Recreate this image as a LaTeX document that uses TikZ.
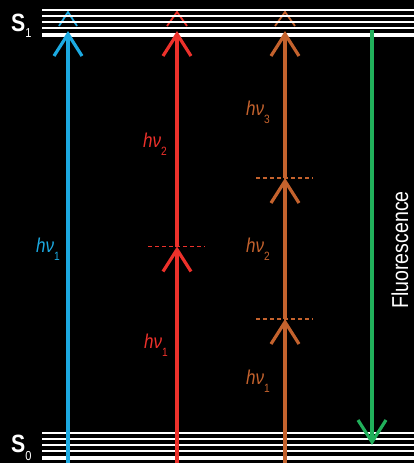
\documentclass[tikz,border=0pt]{standalone}
\usepackage{fontspec}
\setmainfont{Liberation Sans}
\newfontfamily\narrowfont[FakeStretch=0.85]{Liberation Sans}
\usetikzlibrary{arrows.meta, calc}
\definecolor{pumpblue}{RGB}{28,170,226}
\definecolor{pumpred}{RGB}{237,49,43}
\definecolor{pumpbrown}{RGB}{196,98,45}
\definecolor{emitgreen}{RGB}{33,176,91}
\newcommand{\hnu}[1]{\textit{hν}\raisebox{-8pt}{\fontsize{12}{12}\selectfont #1}}

\begin{document}
\begin{tikzpicture}[
  x=1pt, y=-1pt,
  level/.style={draw=white, line width=1.8pt},
  baselevel/.style={draw=white, line width=3.6pt},
  photon/.style={line width=3.2pt, -{Straight Barb[length=22pt, width=28pt]}},
  ghost/.style={line width=1.8pt},
  virt/.style={line width=1.2pt, dash pattern=on 4pt off 3pt},
  hvlabel/.style={font=\narrowfont\fontsize{20}{20}\selectfont, anchor=base west, inner sep=0pt},
  statelabel/.style={white, font=\narrowfont\fontsize{25}{25}\selectfont, anchor=base west, inner sep=0pt}
]
\fill[black] (0,0) rectangle (414,463);
\useasboundingbox (0,0) rectangle (414,463);

% Columns
\coordinate (blueS0) at (68,463);
\coordinate (blueS1) at (68,31);
\coordinate (blueGhost) at (68,12);
\coordinate (redS0) at (177,463);
\coordinate (redV) at (177,246.5);
\coordinate (redS1) at (177,31);
\coordinate (redGhost) at (177,12);
\coordinate (brS0) at (285,463);
\coordinate (brV1) at (285,319);
\coordinate (brV2) at (285,178);
\coordinate (brS1) at (285,31);
\coordinate (brGhost) at (285,12);
\coordinate (grS1) at (372,30);
\coordinate (grS0) at (372,445);

% Ghost tips behind S1
\draw[ghost, pumpblue] ($(blueGhost)+(-9,14)$) -- (blueGhost) -- ++(9,14);
\draw[ghost, pumpred] ($(redGhost)+(-10,14)$) -- (redGhost) -- ++(10,14);
\draw[ghost, pumpbrown] ($(brGhost)+(-10,14)$) -- (brGhost) -- ++(10,14);

% Levels
\foreach \y in {10,16,22,28}
  \draw[level] (42,\y) -- (414,\y);
\draw[baselevel] (42,35) -- (414,35);
\foreach \y in {433,439,445,451}
  \draw[level] (42,\y) -- (414,\y);
\draw[baselevel] (42,458) -- (414,458);

% State labels
\node[statelabel] (S1) at (11,31) {\bfseries S\raisebox{-6pt}{\mdseries\fontsize{13}{13}\selectfont 1}};
\node[statelabel] (S0) at (11,452) {\bfseries S\raisebox{-8pt}{\mdseries\fontsize{13}{13}\selectfont 0}};

% Arrows
\draw[photon, pumpblue] (blueS0) -- (blueS1);
\draw[photon, pumpred] (redS0) -- (redV);
\draw[photon, pumpred] (redV) -- (redS1);
\draw[photon, pumpbrown] (brS0) -- (brV1);
\draw[photon, pumpbrown] (brV1) -- (brV2);
\draw[photon, pumpbrown] (brV2) -- (brS1);
\draw[photon, emitgreen] (grS1) -- (grS0);

% Virtual levels
\draw[virt, pumpred] ($(redV)+(-29,0)$) -- ($(redV)+(28,0)$);
\draw[virt, pumpbrown] ($(brV1)+(-29,0)$) -- ($(brV1)+(28,0)$);
\draw[virt, pumpbrown] ($(brV2)+(-29,0)$) -- ($(brV2)+(28,0)$);

% Photon labels
\node[hvlabel, pumpblue] (blueHv1) at (36,252) {\hnu{1}};
\node[hvlabel, pumpred] (redHv2) at (143,147) {\hnu{2}};
\node[hvlabel, pumpred] (redHv1) at (144,348) {\hnu{1}};
\node[hvlabel, pumpbrown] (brHv3) at (246,115) {\hnu{3}};
\node[hvlabel, pumpbrown] (brHv2) at (246,252) {\hnu{2}};
\node[hvlabel, pumpbrown] (brHv1) at (246,384) {\hnu{1}};

\node[white, font=\narrowfont\fontsize{23}{23}\selectfont, rotate=90, anchor=base, inner sep=0pt] (fluor) at (408,250) {Fluorescence};
\end{tikzpicture}
\end{document}
